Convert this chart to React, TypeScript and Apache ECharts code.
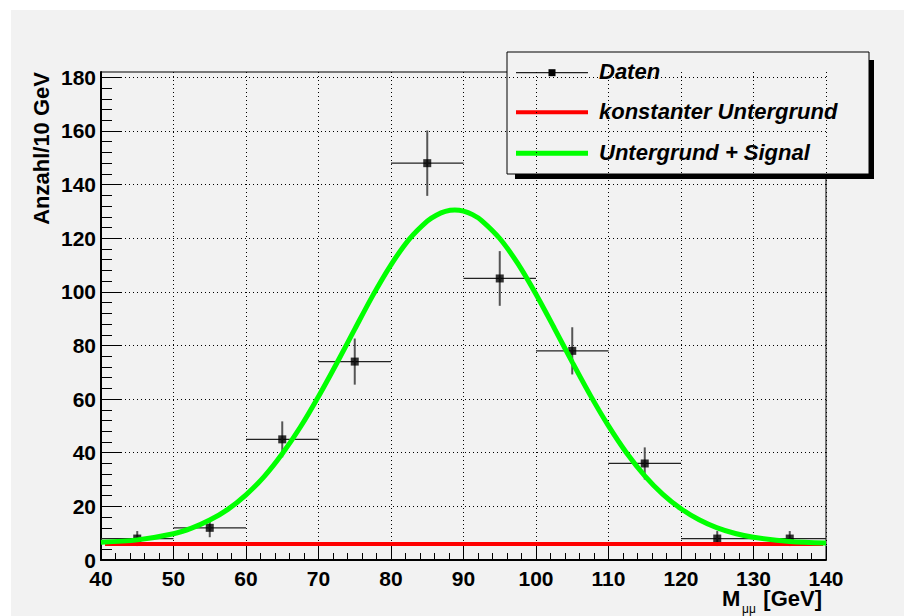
import React, { useEffect, useRef } from "react";
import * as echarts from "echarts";

// Histogram of the di-muon invariant mass: bin centres, counts and their errors
const binCenters = [45, 55, 65, 75, 85, 95, 105, 115, 125, 135];
const counts = [8, 12, 45, 74, 148, 105, 78, 36, 8, 8];
const countErrors = [2.8, 3.5, 6.7, 8.6, 12.2, 10.2, 8.8, 6.0, 2.8, 2.8];
const binHalfWidth = 5;

// Constant background level and the range it is drawn over
const backgroundLevel = 6;
const backgroundRange = [40.55, 139.6];

// Background + signal fit curve, sampled along the mass axis
const fitX = [40, 45, 50, 52.5, 55, 57.5, 60, 62.5, 65, 67.5, 70, 72.5, 75, 77.5, 80, 82.5, 85, 86.25, 87.5, 88.8, 90, 91.25, 92.5, 95, 97.5, 100, 102.5, 105, 107.5, 110, 112.5, 115, 117.5, 120, 122.5, 125, 127.5, 130, 135, 140];
const fitY = [6.6, 7.5, 9.8, 11.9, 14.9, 18.9, 24.3, 31.1, 39.6, 49.6, 61.0, 73.3, 86.1, 98.7, 110.1, 119.6, 126.4, 128.6, 130.0, 130.5, 130.1, 128.8, 126.6, 119.9, 110.5, 99.1, 86.6, 73.8, 61.4, 50.0, 39.9, 31.4, 24.5, 19.1, 15.0, 12.0, 9.9, 8.5, 6.9, 6.3];

// Axis ranges and tick steps
const xMin = 40;
const xMax = 140;
const xStep = 10;
const yMin = 0;
const yLabelMax = 180;
const yFrameMax = 182;
const yStep = 20;

const legendLabels = ["Daten", "konstanter Untergrund", "Untergrund + Signal"];
const xTitleMain = "M";
const xTitleSub = "μμ";
const xTitleUnit = "[GeV]";
const yTitle = "Anzahl/10 GeV";

const FONT = "'Liberation Sans', Arial, Helvetica, sans-serif";
const PAD_GREY = "#f2f2f2";

// Frame geometry of the plotting area
const frameLeft = 101;
const frameRight = 826;
const frameTop = 72;
const frameBottom = 560;
const W = 904;
const H = 616;

export default function App() {
  const ref = useRef<HTMLDivElement>(null);

  useEffect(() => {
    if (!ref.current) return;
    const chart = echarts.init(ref.current, undefined, { renderer: "svg" });

    const frameHeight = frameBottom - frameTop;
    const labelGridTop = frameTop + ((yFrameMax - yLabelMax) / (yFrameMax - yMin)) * frameHeight;

    const dotted = { color: "#000", width: 1, type: [1, 3] as number[] };

    const legendX = 507;
    const legendY = 52;
    const legendW = 362;
    const legendH = 122;
    const rowY = [72.7, 112.3, 153.3];
    const sampleX1 = 516;
    const sampleX2 = 588;
    const textX = 599;

    const option: any = {
      animation: false,
      backgroundColor: PAD_GREY,
      grid: [
        {
          left: frameLeft,
          right: W - frameRight,
          top: frameTop,
          bottom: H - frameBottom,
          show: true,
          borderColor: "#000",
          borderWidth: 1,
          backgroundColor: "transparent",
        },
        {
          left: frameLeft,
          right: W - frameRight,
          top: labelGridTop,
          bottom: H - frameBottom,
          show: false,
        },
      ],
      xAxis: [
        {
          type: "value",
          gridIndex: 0,
          min: xMin,
          max: xMax,
          interval: xStep,
          axisLine: { show: true, onZero: false, lineStyle: { color: "#000", width: 2 } },
          axisTick: { show: true, inside: true, length: 14, lineStyle: { color: "#000", width: 1 } },
          minorTick: { show: true, splitNumber: 5, length: 7, lineStyle: { color: "#000", width: 1 } },
          splitLine: { show: true, lineStyle: dotted },
          axisLabel: {
            show: true,
            margin: 8,
            color: "#000",
            fontSize: 21,
            fontWeight: "bold",
            fontFamily: FONT,
          },
        },
        {
          type: "value",
          gridIndex: 1,
          min: xMin,
          max: xMax,
          show: false,
        },
      ],
      yAxis: [
        {
          type: "value",
          gridIndex: 0,
          min: yMin,
          max: yFrameMax,
          axisLine: { show: true, onZero: false, lineStyle: { color: "#000", width: 2 } },
          axisTick: { show: false },
          axisLabel: { show: false },
          splitLine: { show: false },
        },
        {
          type: "value",
          gridIndex: 1,
          min: yMin,
          max: yLabelMax,
          interval: yStep,
          axisLine: { show: false },
          axisTick: { show: true, inside: true, length: 21, lineStyle: { color: "#000", width: 1 } },
          minorTick: { show: true, splitNumber: 5, length: 11, lineStyle: { color: "#000", width: 1 } },
          splitLine: { show: true, lineStyle: dotted },
          axisLabel: {
            show: true,
            margin: 5,
            color: "#000",
            fontSize: 21,
            fontWeight: "bold",
            fontFamily: FONT,
          },
        },
      ],
      series: [
        {
          name: "errors",
          type: "custom",
          xAxisIndex: 0,
          yAxisIndex: 0,
          z: 3,
          data: binCenters.map((c, i) => [c, counts[i], countErrors[i]]),
          encode: { x: 0, y: 1 },
          renderItem: (_params: any, api: any) => {
            const x = api.value(0);
            const y = api.value(1);
            const e = api.value(2);
            const l = api.coord([x - binHalfWidth, y]);
            const r = api.coord([x + binHalfWidth, y]);
            const t = api.coord([x, y + e]);
            const b = api.coord([x, y - e]);
            return {
              type: "group",
              children: [
                {
                  type: "line",
                  shape: { x1: l[0], y1: l[1], x2: r[0], y2: r[1] },
                  style: { stroke: "#222", lineWidth: 1.3 },
                },
                {
                  type: "line",
                  shape: { x1: t[0], y1: t[1], x2: b[0], y2: b[1] },
                  style: { stroke: "#555", lineWidth: 2 },
                },
              ],
            };
          },
        },
        {
          name: legendLabels[0],
          type: "scatter",
          xAxisIndex: 0,
          yAxisIndex: 0,
          z: 4,
          symbol: "rect",
          symbolSize: 8,
          itemStyle: { color: "#000" },
          data: binCenters.map((c, i) => [c, counts[i]]),
        },
        {
          name: legendLabels[1],
          type: "line",
          xAxisIndex: 0,
          yAxisIndex: 0,
          z: 5,
          symbol: "none",
          lineStyle: { color: "#ff0000", width: 4 },
          data: backgroundRange.map((x) => [x, backgroundLevel]),
        },
        {
          name: legendLabels[2],
          type: "line",
          xAxisIndex: 0,
          yAxisIndex: 0,
          z: 6,
          symbol: "none",
          smooth: 0.3,
          lineStyle: { color: "#00ff00", width: 5 },
          data: fitX.map((x, i) => [x, fitY[i]]),
        },
      ],
      graphic: [
        // white page margin around the grey pad
        { type: "rect", z: 0, silent: true, shape: { x: 0, y: 0, width: W, height: 10 }, style: { fill: "#fff" } },
        { type: "rect", z: 0, silent: true, shape: { x: 0, y: 0, width: 11, height: H }, style: { fill: "#fff" } },
        // y-axis title
        {
          type: "text",
          z: 10,
          x: 41,
          y: frameTop,
          rotation: Math.PI / 2,
          style: {
            text: yTitle,
            fill: "#000",
            font: `bold 22px ${FONT}`,
            textAlign: "right",
            textVerticalAlign: "middle",
          },
        },
        // x-axis title with subscript
        {
          type: "text",
          z: 10,
          x: 722,
          y: 598,
          style: { text: xTitleMain, fill: "#000", font: `bold 22px ${FONT}`, textAlign: "left", textVerticalAlign: "middle" },
        },
        {
          type: "text",
          z: 10,
          x: 742,
          y: 609,
          style: { text: xTitleSub, fill: "#000", font: `12px ${FONT}`, textAlign: "left", textVerticalAlign: "middle" },
        },
        {
          type: "text",
          z: 10,
          x: 822,
          y: 598,
          style: { text: xTitleUnit, fill: "#000", font: `bold 22px ${FONT}`, textAlign: "right", textVerticalAlign: "middle" },
        },
        // legend box with drop shadow
        {
          type: "group",
          z: 20,
          children: [
            {
              type: "rect",
              shape: { x: legendX + 8, y: legendY + 8, width: legendW - 3, height: legendH - 3 },
              style: { fill: "#000" },
            },
            {
              type: "rect",
              shape: { x: legendX, y: legendY, width: legendW, height: legendH },
              style: { fill: PAD_GREY, stroke: "#000", lineWidth: 1 },
            },
            {
              type: "line",
              shape: { x1: sampleX1, y1: rowY[0], x2: sampleX2, y2: rowY[0] },
              style: { stroke: "#222", lineWidth: 1.2 },
            },
            {
              type: "rect",
              shape: { x: 548.5, y: rowY[0] - 3.5, width: 7, height: 7 },
              style: { fill: "#000" },
            },
            {
              type: "line",
              shape: { x1: sampleX1, y1: rowY[1], x2: sampleX2, y2: rowY[1] },
              style: { stroke: "#ff0000", lineWidth: 4 },
            },
            {
              type: "line",
              shape: { x1: sampleX1, y1: rowY[2], x2: sampleX2, y2: rowY[2] },
              style: { stroke: "#00ff00", lineWidth: 5 },
            },
            ...legendLabels.map((label, i) => ({
              type: "text",
              x: textX,
              y: rowY[i] - 1,
              style: {
                text: label,
                fill: "#000",
                font: `italic bold 22px ${FONT}`,
                textAlign: "left",
                textVerticalAlign: "middle",
              },
            })),
          ],
        },
      ],
    };

    chart.setOption(option);
    return () => chart.dispose();
  }, []);

  return (
    <div
      ref={ref}
      style={{ position: "fixed", left: 0, top: 0, width: W, height: H, background: "#fff" }}
    />
  );
}
